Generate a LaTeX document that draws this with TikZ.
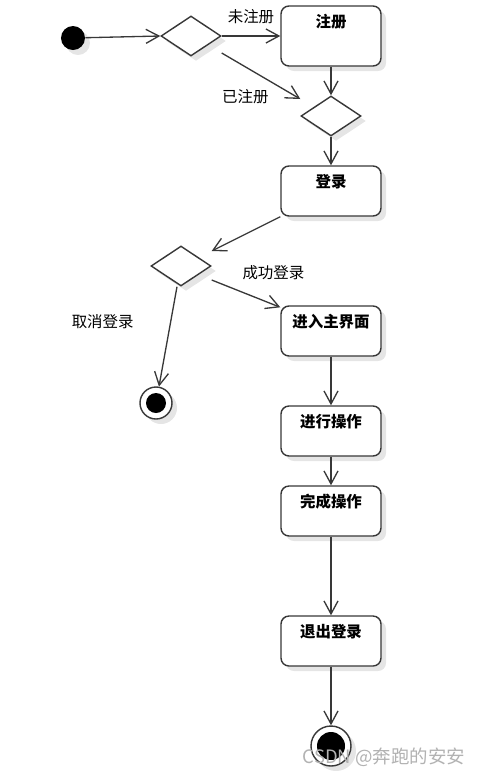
\documentclass[tikz,border=0pt]{standalone}
\usepackage{fontspec}
\setmainfont{Noto Sans CJK SC}
\usepackage{xcolor}
\usetikzlibrary{shapes.geometric, arrows.meta, positioning, shadows}
\definecolor{linegray}{rgb}{0.22,0.22,0.22}
\tikzstyle{softshadow} = [drop shadow={shadow xshift=1mm, shadow yshift=-1mm, opacity=0.1, fill=black}]
\tikzstyle{activity} = [rectangle, rounded corners=1.6mm, minimum width=20mm, text centered, draw=linegray, fill=white, line width=0.8pt, inner ysep=0pt, text height=4.2mm, text depth=5.8mm, font=\fontsize{8.8}{10}\selectfont\bfseries, softshadow]
\tikzstyle{decision} = [diamond, minimum width=12mm, minimum height=8mm, draw=linegray, fill=white, line width=0.8pt, inner sep=0pt, softshadow]
\tikzstyle{initial} = [circle, minimum size=4.8mm, fill=black, inner sep=0pt, softshadow]
\tikzstyle{final} = [circle, minimum size=6.4mm, draw=linegray, fill=white, line width=0.8pt, inner sep=0pt, softshadow, path picture={\fill[black] (path picture bounding box.center) circle (2mm);}]
\tikzstyle{finalbig} = [final, minimum size=8mm, path picture={\fill[black] (path picture bounding box.center) circle (2.8mm);}]
\tikzstyle{guard} = [font=\fontsize{8.8}{10}\selectfont, text=black]
\tikzstyle{arrow} = [line width=0.75pt, draw=linegray, -{Straight Barb[length=2.6mm,width=2.8mm]}]

\begin{document}
\begin{tikzpicture}[x=0.2mm, y=-0.2mm, node distance=20mm]
    \useasboundingbox[fill=white] (0,0) rectangle (484,777);

    \node (dec1) [decision] at (191,36) {};
    \node (start) [initial, left of=dec1, xshift=-3.6mm, yshift=-0.4mm] {};
    \node (reg) [activity, right of=dec1, xshift=8mm, text depth=7.8mm] {注册};
    \node (dec2) [decision, below of=reg, yshift=4mm] {};
    \node (login) [activity, below of=dec2, yshift=5mm] {登录};
    \node (dec3) [decision, below of=login, xshift=-30mm, yshift=5mm] {};
    \node (mainui) [activity, below of=login, yshift=-8mm] {进入主界面};
    \node (end1) [final, below of=dec3, xshift=-5mm, yshift=-7.4mm] {};
    \node (oper) [activity, below of=mainui] {进行操作};
    \node (done) [activity, below of=oper, yshift=4mm] {完成操作};
    \node (logout) [activity, below of=done, yshift=-6mm] {退出登录};
    \node (end2) [finalbig, below of=logout, yshift=-1mm] {};

    \draw [arrow] (start) -- (dec1.west);
    \draw [arrow] (dec1.east) -- node[guard, yshift=3.8mm] {未注册} (reg.west);
    \draw [arrow] ([yshift=-3.4mm]dec1.east) -- node[guard, pos=0.3, yshift=-6mm] {已注册} ([yshift=3.4mm]dec2.west);
    \draw [arrow] (reg) -- (dec2);
    \draw [arrow] (dec2) -- (login);
    \draw [arrow] (login.south west) -- ([yshift=3mm]dec3.east);
    \draw [arrow] ([yshift=-2.8mm]dec3.east) -- node[guard, pos=0.9, yshift=6.4mm] {成功登录} ([yshift=-0.4mm]mainui.north west);
    \draw [arrow] ([xshift=-0.8mm]dec3.south) -- node[guard, pos=0.35, xshift=-13.6mm] {取消登录} (end1);
    \draw [arrow] (mainui) -- (oper);
    \draw [arrow] (oper) -- (done);
    \draw [arrow] (done) -- (logout);
    \draw [arrow] (logout) -- (end2);

    \node (mark) [font=\fontsize{10.5}{12}\selectfont, text=gray!60] at (384,757) {CSDN @奔跑的安安};
\end{tikzpicture}
\end{document}
